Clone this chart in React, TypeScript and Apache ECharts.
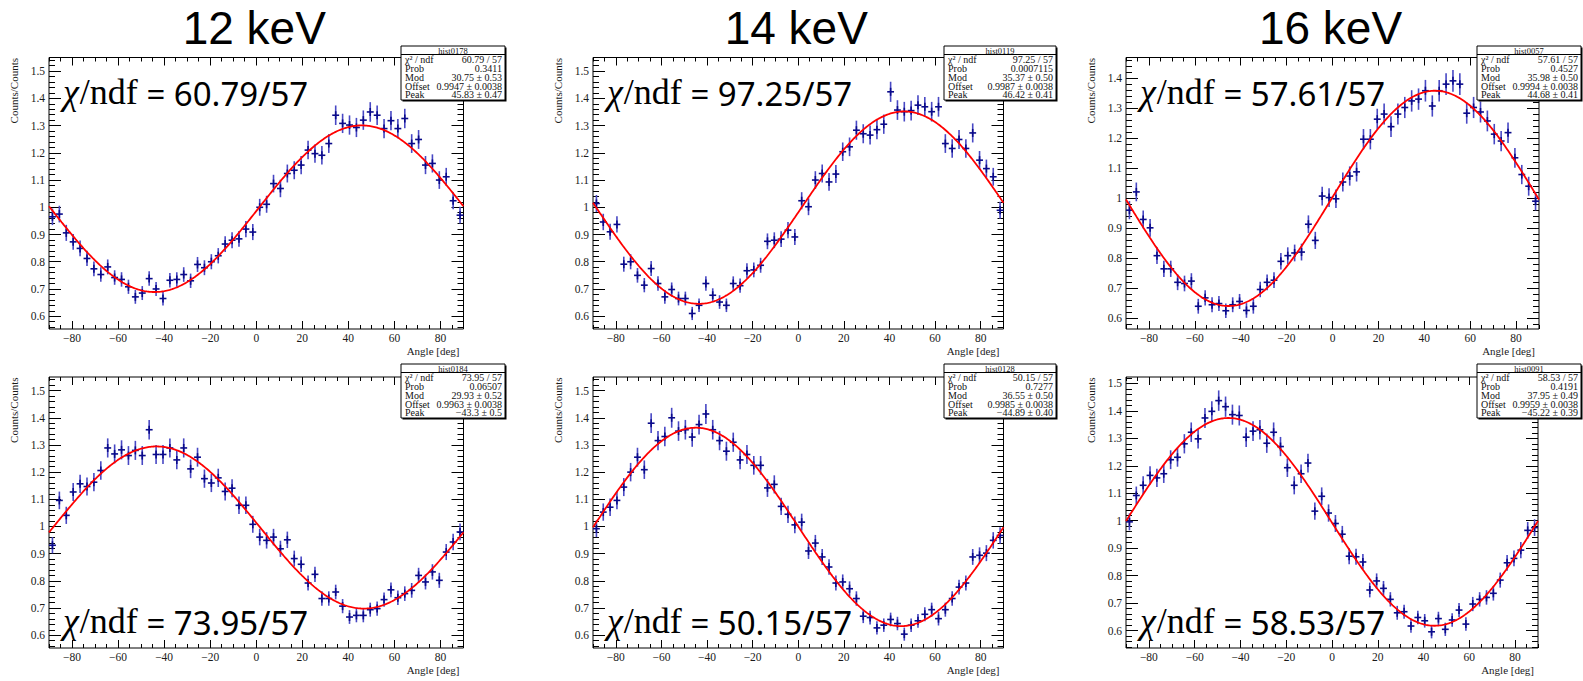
import React, { useEffect, useRef } from "react";
import * as echarts from "echarts";

// Bin centres of the 3-degree angle histogram (deg)
const BIN_CENTERS = [
  -88.5, -85.5, -82.5, -79.5, -76.5, -73.5, -70.5, -67.5, -64.5, -61.5,
  -58.5, -55.5, -52.5, -49.5, -46.5, -43.5, -40.5, -37.5, -34.5, -31.5,
  -28.5, -25.5, -22.5, -19.5, -16.5, -13.5, -10.5, -7.5, -4.5, -1.5,
  1.5, 4.5, 7.5, 10.5, 13.5, 16.5, 19.5, 22.5, 25.5, 28.5,
  31.5, 34.5, 37.5, 40.5, 43.5, 46.5, 49.5, 52.5, 55.5, 58.5,
  61.5, 64.5, 67.5, 70.5, 73.5, 76.5, 79.5, 82.5, 85.5, 88.5,
];

const ENERGY_TITLES = ["12 keV", "14 keV", "16 keV"];
const X_TICK_LABELS = [-80, -60, -40, -20, 0, 20, 40, 60, 80];
const Y_TICK_LABELS_TO_15 = [0.6, 0.7, 0.8, 0.9, 1.0, 1.1, 1.2, 1.3, 1.4, 1.5];
const Y_TICK_LABELS_TO_14 = [0.6, 0.7, 0.8, 0.9, 1.0, 1.1, 1.2, 1.3, 1.4];

// Counts/Counts ratio per bin
const HIST_0178 = [
  0.965, 0.975, 0.906, 0.873, 0.849, 0.812, 0.774, 0.753, 0.781, 0.742,
  0.735, 0.708, 0.671, 0.685, 0.738, 0.700, 0.665, 0.732, 0.735, 0.753,
  0.730, 0.790, 0.778, 0.800, 0.822, 0.865, 0.879, 0.884, 0.920, 0.909,
  1.000, 1.011, 1.087, 1.069, 1.124, 1.136, 1.155, 1.210, 1.197, 1.191,
  1.234, 1.338, 1.308, 1.302, 1.293, 1.320, 1.350, 1.338, 1.289, 1.318,
  1.289, 1.326, 1.234, 1.249, 1.155, 1.161, 1.100, 1.112, 1.024, 0.971,
];
const HIST_0119 = [
  1.014, 0.946, 0.910, 0.937, 0.791, 0.800, 0.750, 0.714, 0.775, 0.720,
  0.671, 0.698, 0.665, 0.665, 0.610, 0.640, 0.720, 0.677, 0.652, 0.640,
  0.720, 0.712, 0.767, 0.770, 0.787, 0.875, 0.879, 0.883, 0.916, 0.891,
  1.024, 1.002, 1.100, 1.124, 1.093, 1.122, 1.204, 1.222, 1.283, 1.270,
  1.265, 1.285, 1.305, 1.424, 1.357, 1.351, 1.355, 1.375, 1.369, 1.351,
  1.369, 1.234, 1.216, 1.249, 1.216, 1.273, 1.173, 1.142, 1.112, 0.989,
];
const HIST_0057 = [
  0.960, 1.021, 0.929, 0.901, 0.808, 0.764, 0.764, 0.719, 0.715, 0.723,
  0.639, 0.667, 0.644, 0.648, 0.624, 0.644, 0.655, 0.625, 0.639, 0.695,
  0.719, 0.726, 0.789, 0.808, 0.817, 0.820, 0.913, 0.859, 1.007, 1.002,
  0.998, 1.054, 1.074, 1.088, 1.197, 1.197, 1.264, 1.281, 1.239, 1.281,
  1.303, 1.325, 1.331, 1.359, 1.308, 1.359, 1.381, 1.392, 1.381, 1.284,
  1.303, 1.288, 1.258, 1.214, 1.191, 1.219, 1.135, 1.079, 1.040, 0.990,
];
const HIST_0184 = [
  0.931, 1.096, 1.041, 1.127, 1.157, 1.147, 1.163, 1.206, 1.289, 1.267,
  1.282, 1.261, 1.280, 1.261, 1.356, 1.265, 1.265, 1.289, 1.245, 1.289,
  1.212, 1.255, 1.176, 1.160, 1.179, 1.129, 1.141, 1.078, 1.078, 1.008,
  0.961, 0.949, 0.961, 0.918, 0.951, 0.882, 0.861, 0.792, 0.824, 0.735,
  0.735, 0.759, 0.707, 0.667, 0.673, 0.673, 0.694, 0.698, 0.731, 0.767,
  0.738, 0.753, 0.765, 0.820, 0.796, 0.833, 0.802, 0.906, 0.943, 0.980,
];
const HIST_0128 = [
  0.992, 1.053, 1.071, 1.096, 1.145, 1.200, 1.255, 1.209, 1.380, 1.316,
  1.331, 1.400, 1.351, 1.356, 1.329, 1.375, 1.414, 1.356, 1.316, 1.277,
  1.310, 1.245, 1.265, 1.225, 1.225, 1.142, 1.155, 1.074, 1.045, 1.006,
  1.016, 0.910, 0.939, 0.888, 0.851, 0.792, 0.796, 0.771, 0.735, 0.670,
  0.665, 0.627, 0.637, 0.658, 0.643, 0.604, 0.637, 0.653, 0.677, 0.694,
  0.661, 0.694, 0.735, 0.777, 0.792, 0.888, 0.894, 0.902, 0.949, 0.967,
];
const HIST_0091 = [
  0.996, 1.092, 1.129, 1.165, 1.156, 1.171, 1.222, 1.231, 1.280, 1.322,
  1.298, 1.374, 1.398, 1.437, 1.415, 1.386, 1.383, 1.304, 1.326, 1.331,
  1.282, 1.322, 1.270, 1.193, 1.129, 1.171, 1.210, 1.035, 1.089, 1.028,
  0.990, 0.951, 0.871, 0.869, 0.850, 0.748, 0.781, 0.754, 0.714, 0.665,
  0.669, 0.617, 0.648, 0.636, 0.596, 0.644, 0.605, 0.639, 0.675, 0.624,
  0.697, 0.714, 0.721, 0.736, 0.784, 0.847, 0.863, 0.893, 0.965, 0.975,
];

// Fit results: Offset * (1 + Mod/100 * cos(2 (x - Peak)))
const HIST_NAMES = ["hist0178", "hist0119", "hist0057", "hist0184", "hist0128", "hist0091"];
const HIST_VALUES = [HIST_0178, HIST_0119, HIST_0057, HIST_0184, HIST_0128, HIST_0091];
const CHI2 = ["60.79", "97.25", "57.61", "73.95", "50.15", "58.53"];
const NDF = 57;
const PROB = ["0.3411", "0.0007115", "0.4527", "0.06507", "0.7277", "0.4191"];
const FIT_MOD = [30.75, 35.37, 35.98, 29.93, 36.55, 37.95];
const FIT_MOD_ERR = ["0.53", "0.50", "0.50", "0.52", "0.50", "0.49"];
const FIT_OFFSET = [0.9947, 0.9987, 0.9994, 0.9963, 0.9985, 0.9959];
const FIT_OFFSET_ERR = ["0.0038", "0.0038", "0.0038", "0.0038", "0.0038", "0.0038"];
const FIT_PEAK = [45.83, 46.42, 44.68, -43.3, -44.89, -45.22];
const FIT_PEAK_ERR = ["0.47", "0.41", "0.41", "0.5", "0.40", "0.39"];

// Statistical error of each ratio bin scales with sqrt of the ratio
const ERR_SCALE = 0.031;

// Layout of the six pads (pixels)
const PADS = [
  { left: 49, top: 57.5, width: 414.5, height: 271.5, yMin: 0.553, yMax: 1.55, yTicks: Y_TICK_LABELS_TO_15, box: { x: 401, y: 46, w: 104 }, chiY: 92 },
  { left: 593, top: 57.5, width: 410.5, height: 271.5, yMin: 0.553, yMax: 1.55, yTicks: Y_TICK_LABELS_TO_15, box: { x: 944, y: 46, w: 112 }, chiY: 92 },
  { left: 1126, top: 57.5, width: 413, height: 271.5, yMin: 0.563, yMax: 1.47, yTicks: Y_TICK_LABELS_TO_14, box: { x: 1477, y: 46, w: 104 }, chiY: 92 },
  { left: 49, top: 377, width: 414.5, height: 271, yMin: 0.553, yMax: 1.55, yTicks: Y_TICK_LABELS_TO_15, box: { x: 401, y: 364, w: 104 }, chiY: 621 },
  { left: 593, top: 377, width: 410.5, height: 271, yMin: 0.553, yMax: 1.55, yTicks: Y_TICK_LABELS_TO_15, box: { x: 944, y: 364, w: 112 }, chiY: 621 },
  { left: 1126, top: 377, width: 412, height: 271, yMin: 0.537, yMax: 1.523, yTicks: Y_TICK_LABELS_TO_15, box: { x: 1477, y: 364, w: 104 }, chiY: 621 },
];

const SERIF = "Liberation Serif";
const SANS = "Noto Sans";
const TITLE_SANS = "Liberation Sans";
const CHI_SERIF_SIZE = 36;
const CHI_SANS_SIZE = 33;

const minus = (s: string) => s.replace("-", "\u2212");

let measureCtx: CanvasRenderingContext2D | null = null;
function textWidth(text: string, font: string) {
  if (!measureCtx) measureCtx = document.createElement("canvas").getContext("2d");
  if (!measureCtx) return text.length * 10;
  measureCtx.font = font;
  return measureCtx.measureText(text).width;
}

function fitValue(i: number, x: number) {
  return FIT_OFFSET[i] * (1 + (FIT_MOD[i] / 100) * Math.cos((2 * (x - FIT_PEAK[i]) * Math.PI) / 180));
}

function minorTicks(lo: number, hi: number, step: number) {
  const out: number[] = [];
  const start = Math.ceil(lo / step - 1e-9);
  const end = Math.floor(hi / step + 1e-9);
  for (let k = start; k <= end; k++) out.push(+(k * step).toFixed(4));
  return out;
}

function renderErrorBar(params: any, api: any) {
  const x = api.value(0);
  const y = api.value(1);
  const e = api.value(2);
  const c = api.coord([x, y]);
  const hi = api.coord([x, y + e]);
  const lo = api.coord([x, y - e]);
  const l = api.coord([x - 1.5, y]);
  const r = api.coord([x + 1.5, y]);
  return {
    type: "group",
    children: [
      { type: "line", shape: { x1: c[0], y1: hi[1], x2: c[0], y2: lo[1] }, style: { stroke: "#4848c4", lineWidth: 1.6 } },
      { type: "line", shape: { x1: c[0], y1: c[1] - 4, x2: c[0], y2: c[1] + 4 }, style: { stroke: "#0a0a8a", lineWidth: 1.6 } },
      { type: "line", shape: { x1: l[0], y1: c[1], x2: r[0], y2: c[1] }, style: { stroke: "#0a0a8a", lineWidth: 1.6 } },
    ],
  };
}

function statBox(i: number) {
  const { x, y, w } = PADS[i].box;
  const h = 54;
  const rows: [string, string][] = [
    ["\u03c7\u00b2 / ndf", `${CHI2[i]} / ${NDF}`],
    ["Prob", PROB[i]],
    ["Mod", `${FIT_MOD[i]} \u00b1 ${FIT_MOD_ERR[i]}`],
    ["Offset", `${FIT_OFFSET[i]} \u00b1 ${FIT_OFFSET_ERR[i]}`],
    ["Peak", `${minus(String(FIT_PEAK[i]))} \u00b1 ${FIT_PEAK_ERR[i]}`],
  ];
  const rowY = [13.5, 22, 31, 40, 48.5];
  const font = { fontFamily: SERIF, fontSize: 10, fill: "#111" };
  const els: any[] = [
    { type: "rect", z: 100, shape: { x: x + 1.5, y: y + 1.5, width: w, height: h }, style: { fill: "#000" } },
    { type: "rect", z: 101, shape: { x, y, width: w, height: h }, style: { fill: "#fff", stroke: "#000", lineWidth: 1 } },
    { type: "line", z: 102, shape: { x1: x, y1: y + 8.5, x2: x + w, y2: y + 8.5 }, style: { stroke: "#000", lineWidth: 1 } },
    { type: "text", z: 102, x: x + w / 2, y: y + 4.5, style: { fontFamily: SERIF, fontSize: 8.5, fill: "#111", text: HIST_NAMES[i], align: "center", verticalAlign: "middle", lineHeight: 8 } },
  ];
  rows.forEach(([k, v], r) => {
    els.push({ type: "text", z: 102, x: x + 4, y: y + rowY[r], style: { ...font, text: k, align: "left", verticalAlign: "middle" } });
    els.push({ type: "text", z: 102, x: x + w - 3, y: y + rowY[r], style: { ...font, text: v, align: "right", verticalAlign: "middle" } });
  });
  return els;
}

// "χ/ndf = value" annotation: Greek letter in serif italic, "/ndf" in serif, number part in sans
function chiLabel(i: number) {
  const p = PADS[i];
  const x0 = p.left + 14;
  const chiFont = `italic ${CHI_SERIF_SIZE}px "${SERIF}"`;
  const serifFont = `${CHI_SERIF_SIZE}px "${SERIF}"`;
  const wChi = textWidth("\u03c7", chiFont);
  const wNdf = textWidth("/ndf", serifFont);
  const x1 = x0 + wChi + 1;
  const x2 = x1 + wNdf;
  return [
    { type: "text", z: 60, x: x0, y: p.chiY, style: { text: "\u03c7", fontFamily: SERIF, fontStyle: "italic", fontSize: CHI_SERIF_SIZE, fill: "#000", align: "left", verticalAlign: "middle" } },
    { type: "text", z: 60, x: x1, y: p.chiY, style: { text: "/ndf", fontFamily: SERIF, fontSize: CHI_SERIF_SIZE, fill: "#000", align: "left", verticalAlign: "middle" } },
    { type: "text", z: 60, x: x2, y: p.chiY + 1, style: { text: ` = ${CHI2[i]}/${NDF}`, fontFamily: SANS, fontSize: CHI_SANS_SIZE, fill: "#000", align: "left", verticalAlign: "middle" } },
  ];
}

function buildOption() {
  const grid: any[] = [];
  const xAxis: any[] = [];
  const yAxis: any[] = [];
  const series: any[] = [];
  const graphic: any[] = [];

  const xMinor = minorTicks(-90, 90, 5);
  const tickLine = { color: "#000", width: 1 };
  const labelStyle = { fontFamily: SERIF, fontSize: 11.5, color: "#1a1a1a" };

  PADS.forEach((p, i) => {
    grid.push({ left: p.left, top: p.top, width: p.width, height: p.height, show: true, borderColor: "#000", borderWidth: 1, backgroundColor: "#fff" });
    const yMinor = minorTicks(p.yMin, p.yMax, 0.02);
    const xi = xAxis.length;
    const yi = yAxis.length;
    const xBase = { gridIndex: i, type: "value", min: -90, max: 90, axisLine: { show: false, onZero: false }, splitLine: { show: false } };
    const yBase = { gridIndex: i, type: "value", min: p.yMin, max: p.yMax, axisLine: { show: false, onZero: false }, splitLine: { show: false } };

    xAxis.push({
      ...xBase, position: "bottom",
      axisTick: { inside: true, length: 8, customValues: X_TICK_LABELS, lineStyle: tickLine },
      axisLabel: { ...labelStyle, customValues: X_TICK_LABELS, margin: 3, formatter: (v: number) => minus(String(v)) },
    });
    xAxis.push({ ...xBase, position: "bottom", axisTick: { inside: true, length: 4, customValues: xMinor, lineStyle: tickLine }, axisLabel: { show: false } });
    xAxis.push({ ...xBase, position: "top", axisTick: { inside: true, length: 8, customValues: X_TICK_LABELS, lineStyle: tickLine }, axisLabel: { show: false } });
    xAxis.push({ ...xBase, position: "top", axisTick: { inside: true, length: 4, customValues: xMinor, lineStyle: tickLine }, axisLabel: { show: false } });

    yAxis.push({
      ...yBase, position: "left",
      axisTick: { inside: true, length: 12, customValues: p.yTicks, lineStyle: tickLine },
      axisLabel: { ...labelStyle, customValues: p.yTicks, margin: 4, formatter: (v: number) => String(Math.round(v * 10) / 10) },
    });
    yAxis.push({ ...yBase, position: "left", axisTick: { inside: true, length: 6, customValues: yMinor, lineStyle: tickLine }, axisLabel: { show: false } });
    yAxis.push({ ...yBase, position: "right", axisTick: { inside: true, length: 12, customValues: p.yTicks, lineStyle: tickLine }, axisLabel: { show: false } });
    yAxis.push({ ...yBase, position: "right", axisTick: { inside: true, length: 6, customValues: yMinor, lineStyle: tickLine }, axisLabel: { show: false } });

    const values = HIST_VALUES[i];
    series.push({
      type: "custom",
      xAxisIndex: xi,
      yAxisIndex: yi,
      renderItem: renderErrorBar,
      data: values.map((v, k) => [BIN_CENTERS[k], v, ERR_SCALE * Math.sqrt(v)]),
      z: 3,
      silent: true,
    });

    const curve: number[][] = [];
    for (let x = -90; x <= 90; x += 0.5) curve.push([x, fitValue(i, x)]);
    series.push({
      type: "line",
      xAxisIndex: xi,
      yAxisIndex: yi,
      data: curve,
      showSymbol: false,
      symbol: "none",
      lineStyle: { color: "#ff0000", width: 1.8 },
      z: 4,
      silent: true,
    });

    // Axis titles
    graphic.push({
      type: "text", z: 50, x: p.left - 35, y: p.top + 0.5, rotation: Math.PI / 2,
      style: { text: "Counts/Counts", fontFamily: SERIF, fontSize: 11, fill: "#1a1a1a", align: "right", verticalAlign: "middle" },
    });
    graphic.push({
      type: "text", z: 50, x: p.left + p.width - 4, y: p.top + p.height + 22,
      style: { text: "Angle [deg]", fontFamily: SERIF, fontSize: 11, fill: "#1a1a1a", align: "right", verticalAlign: "middle" },
    });

    graphic.push(...chiLabel(i));
    graphic.push(...statBox(i));
  });

  ENERGY_TITLES.forEach((t, c) => {
    const p = PADS[c];
    graphic.push({
      type: "text", z: 60, x: p.left + p.width / 2 - 2, y: 28,
      style: { text: t, fontFamily: TITLE_SANS, fontSize: 46, lineHeight: 46, fill: "#000", align: "center", verticalAlign: "middle" },
    });
  });

  return {
    animation: false,
    backgroundColor: "#fff",
    textStyle: { fontFamily: SERIF },
    grid,
    xAxis,
    yAxis,
    series,
    graphic,
  };
}

export default function App() {
  const ref = useRef<HTMLDivElement>(null);
  useEffect(() => {
    if (!ref.current) return;
    const chart = echarts.init(ref.current, null, { renderer: "svg" });
    chart.setOption(buildOption());
    return () => chart.dispose();
  }, []);
  return (
    <div
      ref={ref}
      style={{ position: "absolute", left: 0, top: 0, width: 1583, height: 681, background: "#fff" }}
    />
  );
}
